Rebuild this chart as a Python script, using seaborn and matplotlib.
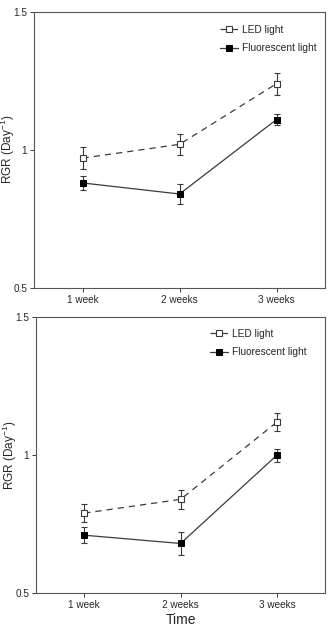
import numpy as np
import pandas as pd
import seaborn as sns
import matplotlib.pyplot as plt

# time points
weeks = ['1 week', '2 weeks', '3 weeks']

# panel A
led_a = [0.97, 1.02, 1.24]
led_a_err = [0.04, 0.037, 0.04]
flu_a = [0.88, 0.84, 1.11]
flu_a_err = [0.025, 0.036, 0.02]

# panel B
led_b = [0.79, 0.84, 1.12]
led_b_err = [0.032, 0.034, 0.032]
flu_b = [0.71, 0.68, 1.00]
flu_b_err = [0.03, 0.04, 0.023]

sns.set_style('ticks')
plt.rcParams['font.family'] = ['Liberation Sans', 'DejaVu Sans']
plt.rcParams['mathtext.default'] = 'regular'

LINE = '#3a3a3a'


def draw_panel(ax, led, led_err, flu, flu_err, leg_pos, xlabel=None):
    x = np.arange(len(weeks))
    df = pd.DataFrame({'x': np.concatenate([x, x]),
                       'rgr': led + flu,
                       'light': ['LED light'] * 3 + ['Fluorescent light'] * 3})
    ax.errorbar(x, led, yerr=led_err, fmt='none', ecolor=LINE, elinewidth=0.8,
                capsize=2, capthick=0.8, zorder=2)
    ax.errorbar(x, flu, yerr=flu_err, fmt='none', ecolor=LINE, elinewidth=0.8,
                capsize=2, capthick=0.8, zorder=2)
    sns.lineplot(data=df[df.light == 'LED light'], x='x', y='rgr', ax=ax,
                 color=LINE, linewidth=0.9, linestyle=(0, (5, 4)), marker='s',
                 markersize=5, markerfacecolor='white', markeredgecolor=LINE,
                 markeredgewidth=0.8, label='LED light', zorder=3)
    sns.lineplot(data=df[df.light == 'Fluorescent light'], x='x', y='rgr', ax=ax,
                 color=LINE, linewidth=0.9, marker='s', markersize=5,
                 markerfacecolor='black', markeredgecolor='black',
                 label='Fluorescent light', zorder=3)
    ax.set_xlim(-0.5, 2.5)
    ax.set_ylim(0.5, 1.5)
    ax.set_xticks(x)
    ax.set_xticklabels(weeks, fontsize=7.2)
    ax.set_yticks([0.5, 1, 1.5])
    ax.set_yticklabels(['0.5', '1', '1.5'], fontsize=7.2)
    ax.tick_params(length=3, width=0.7, color=LINE, pad=2)
    ax.set_ylabel('RGR (Day$^{-1}$)', fontsize=8.5)
    ax.yaxis.set_label_coords(-0.058, 0.5)
    ax.set_xlabel(xlabel if xlabel else '', fontsize=10, labelpad=2)
    for s in ax.spines.values():
        s.set_color('#555555')
        s.set_linewidth(0.8)
    ax.legend(loc='upper left', bbox_to_anchor=leg_pos, frameon=False,
              fontsize=7.3, handlelength=1.75, handletextpad=0.4,
              labelspacing=0.85, borderaxespad=0, borderpad=0)


fig = plt.figure(figsize=(3.28, 6.27), dpi=100)
ax1 = fig.add_axes([0.104, 0.541, 0.887, 0.440])
ax2 = fig.add_axes([0.110, 0.054, 0.881, 0.440])
draw_panel(ax1, led_a, led_a_err, flu_a, flu_a_err, (0.639, 0.954))
draw_panel(ax2, led_b, led_b_err, flu_b, flu_b_err, (0.602, 0.958), xlabel='Time')

fig.savefig('out.png', dpi=100)
